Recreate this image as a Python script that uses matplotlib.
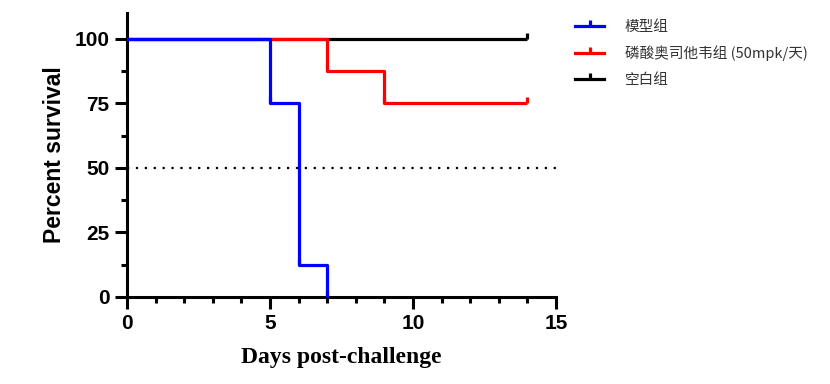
import matplotlib.pyplot as plt
from matplotlib.ticker import MultipleLocator
from matplotlib.lines import Line2D

# --- data ---
groups = ["模型组", "磷酸奥司他韦组 (50mpk/天)", "空白组"]
colors = ["#0000ff", "#ff0000", "#000000"]

# step start days and survival percent at each step
days = [
    [0, 5, 6, 7],
    [0, 7, 9, 14],
    [0, 14],
]
survival = [
    [100, 75, 12.5, 0],
    [100, 87.5, 75, 75],
    [100, 100],
]
# points where a tick mark is drawn on the curve
mark_days = [[5, 6, 7], [7, 9, 14], [14]]
mark_vals = [[75, 12.5, 0], [87.5, 75, 75], [100]]

x_ticks = [0, 5, 10, 15]
y_ticks = [0, 25, 50, 75, 100]

plt.rcParams['font.family'] = ['Liberation Sans', 'DejaVu Sans']

fig = plt.figure(figsize=(8.3, 3.84), dpi=100)
ax = fig.add_axes([0.153, 0.2266, 0.517, 0.7394])

# draw the blank group first so the others sit on top
for i in [2, 1, 0]:
    ax.step(days[i], survival[i], where='post', color=colors[i], lw=2.3,
            solid_capstyle='butt', zorder=3 + (2 - i))
    ax.plot(mark_days[i], mark_vals[i], linestyle='none', marker=2,
            markersize=4, mew=2.3, color=colors[i], zorder=4 + (2 - i))

ax.plot([0, 15], [50, 50], linestyle=(0, (1, 3)), color='black', lw=1.6, zorder=2)

ax.set_xlim(0, 15)
ax.set_ylim(0, 110)
ax.set_xticks(x_ticks)
ax.set_yticks(y_ticks)
ax.xaxis.set_minor_locator(MultipleLocator(1))
ax.yaxis.set_minor_locator(MultipleLocator(12.5))

for s in ['top', 'right']:
    ax.spines[s].set_visible(False)
for s in ['left', 'bottom']:
    ax.spines[s].set_linewidth(2.2)

ax.tick_params(which='major', direction='out', length=8.5, width=2.2,
               labelsize=15, pad=4)
ax.tick_params(which='minor', direction='out', length=4.5, width=2.2)
for lab in ax.get_xticklabels() + ax.get_yticklabels():
    lab.set_fontweight('bold')

ax.set_ylabel("Percent survival", fontsize=16.5, fontweight='bold', labelpad=6)
ax.set_xlabel("Days post-challenge", fontsize=17, fontweight='bold',
              family='Liberation Serif', labelpad=10)

# legend
handles = [Line2D([0, 0.5, 1], [0, 0, 0], color=c, lw=2.3, marker=2,
                  markersize=4, mew=2.3, markevery=[1]) for c in colors]
leg = fig.legend(handles, groups, loc='upper left', bbox_to_anchor=(0.677, 0.982),
                 frameon=False, handlelength=2.0, handletextpad=1.4,
                 labelspacing=0.8,
                 prop={'family': ['Noto Sans CJK SC', 'DejaVu Sans'], 'size': 10.5})
for t in leg.get_texts():
    t.set_color('#333333')

fig.savefig("out.png", dpi=100)
